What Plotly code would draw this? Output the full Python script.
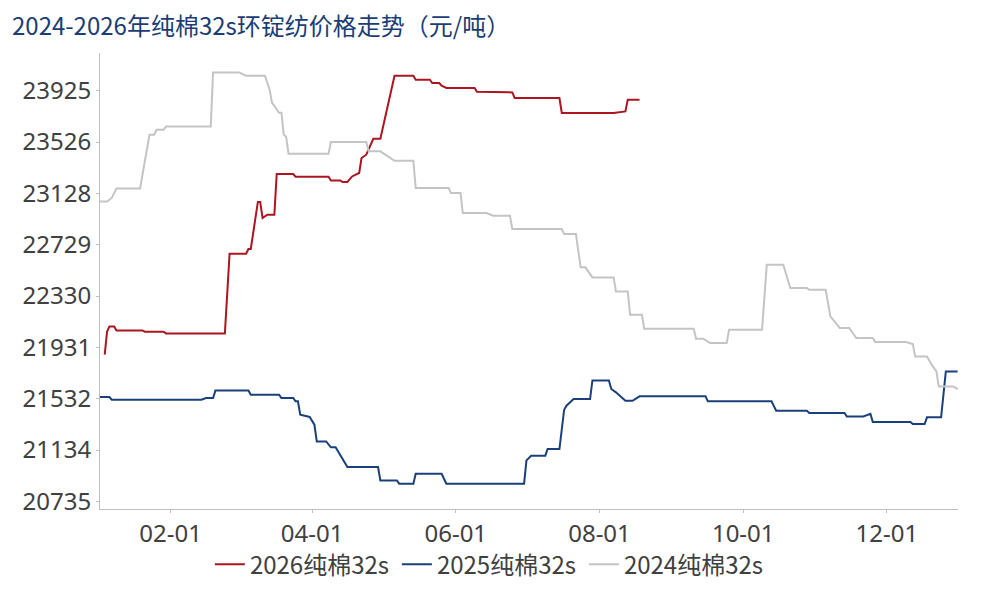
import plotly.graph_objects as go

# 横轴统一放在2024年(闰年)的月-日上，三年价格按日期叠放
dates_2026 = ["01-04", "01-05", "01-06", "01-08", "01-09", "01-20", "01-21", "01-29", "01-30",
              "02-24", "02-26", "03-04", "03-05", "03-06", "03-09", "03-10", "03-11", "03-13",
              "03-16", "03-17", "03-24", "03-25", "04-08", "04-09", "04-13", "04-14", "04-16",
              "04-18", "04-21", "04-22", "04-24", "04-27", "04-30", "05-06", "05-14", "05-15",
              "05-21", "05-22", "05-25", "05-26", "05-28", "06-09", "06-10", "06-25", "06-26",
              "07-15", "07-16", "08-07", "08-12", "08-13", "08-18"]
price_2026 = [21875, 22055, 22094, 22094, 22063, 22063, 22053, 22053, 22040,
              22040, 22659, 22659, 22696, 22696, 23061, 23061, 22936, 22962,
              22962, 23278, 23278, 23257, 23257, 23228, 23228, 23216, 23216,
              23259, 23286, 23402, 23428, 23552, 23552, 24042, 24042, 24010,
              24010, 23985, 23985, 23964, 23946, 23946, 23917, 23912, 23868,
              23868, 23752, 23752, 23764, 23855, 23855]

dates_2025 = ["01-02", "01-06", "01-07", "02-14", "02-16", "02-19", "02-20", "03-05", "03-06",
              "03-18", "03-19", "03-24", "03-25", "03-26", "03-27", "03-31", "04-02", "04-03",
              "04-07", "04-09", "04-11", "04-16", "04-29", "04-30", "05-07", "05-08", "05-14",
              "05-15", "05-26", "05-28", "06-30", "07-01", "07-03", "07-09", "07-10", "07-15",
              "07-17", "07-18", "07-21", "07-28", "07-29", "08-05", "08-06", "08-08", "08-12",
              "08-15", "08-18", "09-15", "09-16", "10-13", "10-15", "10-28", "10-29", "11-13",
              "11-14", "11-21", "11-24", "11-25", "12-11", "12-12", "12-17", "12-18", "12-24",
              "12-26", "12-31"]
price_2025 = [21546, 21546, 21525, 21525, 21538, 21538, 21597, 21597, 21564,
              21564, 21538, 21538, 21512, 21512, 21409, 21391, 21331, 21201,
              21201, 21155, 21155, 21002, 21002, 20898, 20898, 20873, 20873,
              20950, 20950, 20873, 20873, 21054, 21090, 21090, 21142, 21142,
              21447, 21478, 21530, 21530, 21675, 21675, 21608, 21582, 21517,
              21517, 21551, 21551, 21512, 21512, 21440, 21440, 21422, 21422,
              21395, 21395, 21416, 21352, 21352, 21336, 21336, 21388, 21388,
              21745, 21745]

dates_2024 = ["01-02", "01-05", "01-07", "01-09", "01-19", "01-23", "01-25", "01-26", "01-29",
              "01-30", "02-18", "02-19", "03-01", "03-04", "03-12", "03-14", "03-15", "03-18",
              "03-19", "03-20", "03-21", "03-22", "04-08", "04-09", "04-24", "04-25", "04-30",
              "05-06", "05-14", "05-15", "05-29", "05-30", "06-03", "06-04", "06-14", "06-17",
              "06-24", "06-25", "07-16", "07-17", "07-22", "07-24", "07-26", "07-29", "08-07",
              "08-08", "08-13", "08-14", "08-19", "08-20", "09-10", "09-11", "09-14", "09-17",
              "09-24", "09-25", "10-09", "10-10", "10-11", "10-18", "10-21", "10-28", "10-29",
              "11-05", "11-07", "11-11", "11-15", "11-18", "11-25", "11-26", "12-09", "12-12",
              "12-13", "12-18", "12-20", "12-22", "12-23", "12-29", "12-31"]
price_2024 = [23065, 23065, 23092, 23166, 23166, 23583, 23583, 23622, 23622,
              23648, 23648, 24067, 24067, 24042, 24042, 23933, 23832, 23754,
              23754, 23583, 23568, 23436, 23436, 23527, 23527, 23454, 23454,
              23381, 23381, 23169, 23169, 23130, 23130, 22975, 22975, 22954,
              22954, 22851, 22851, 22812, 22812, 22553, 22553, 22475, 22475,
              22366, 22366, 22185, 22185, 22076, 22076, 21999, 21999, 21965,
              21965, 22069, 22069, 22302, 22574, 22574, 22393, 22393, 22379,
              22379, 22172, 22082, 22082, 22004, 22004, 21973, 21973, 21958,
              21861, 21861, 21797, 21745, 21628, 21628, 21608]

y_ticks = [20735, 21134, 21532, 21931, 22330, 22729, 23128, 23526, 23925]
x_ticks = ["02-01", "04-01", "06-01", "08-01", "10-01", "12-01"]


def on_axis(days):
    return ["2024-" + d for d in days]


fig = go.Figure()
fig.add_trace(go.Scatter(x=on_axis(dates_2026), y=price_2026, mode="lines", name="2026纯棉32s",
                         line=dict(color="#AC1420", width=2)))
fig.add_trace(go.Scatter(x=on_axis(dates_2025), y=price_2025, mode="lines", name="2025纯棉32s",
                         line=dict(color="#1A407C", width=2)))
fig.add_trace(go.Scatter(x=on_axis(dates_2024), y=price_2024, mode="lines", name="2024纯棉32s",
                         line=dict(color="#C4C4C4", width=2)))

fig.update_layout(
    width=1000, height=600,
    template="plotly_white",
    paper_bgcolor="white", plot_bgcolor="white",
    margin=dict(l=100, r=42, t=53, b=91),
    title=dict(text="2024-2026年纯棉32s环锭纺价格走势（元/吨）",
               x=0.012, xanchor="left", y=0.955, yanchor="middle",
               font=dict(family="Noto Sans CJK SC", size=24, color="#1A3D74")),
    font=dict(family="Noto Sans CJK SC", color="#404040"),
    showlegend=True,
    # 图例放得稍高一点，免得它把下边距撑大
    legend=dict(orientation="h", x=0.455, xanchor="center", y=-0.122, yanchor="middle",
                font=dict(family="Noto Sans CJK SC", size=24, color="#404040"),
                itemwidth=30, tracegroupgap=0, entrywidth=142),
)
fig.update_xaxes(
    range=["2024-01-02", "2024-12-31 04:00"],
    tickvals=on_axis(x_ticks), ticktext=x_ticks,
    showgrid=False, zeroline=False, automargin=False,
    showline=True, linecolor="#BFBFBF", linewidth=1,
    ticks="outside", ticklen=3, tickcolor="#BFBFBF",
    tickfont=dict(family="Noto Sans", size=24, color="#404040"),
)
fig.update_yaxes(
    range=[20676, 24218],
    tickvals=y_ticks, ticktext=[str(v) for v in y_ticks],
    showgrid=False, zeroline=False, automargin=False,
    showline=True, linecolor="#BFBFBF", linewidth=1,
    ticks="outside", ticklen=3, tickcolor="#BFBFBF",
    tickfont=dict(family="Noto Sans", size=24, color="#404040"),
)

# 去掉页面 body 默认的 8px 边距，让 1000x600 的画布贴满窗口
fig.write_html("out.html", config={"displayModeBar": False},
               post_script="document.body.style.margin='0';")
